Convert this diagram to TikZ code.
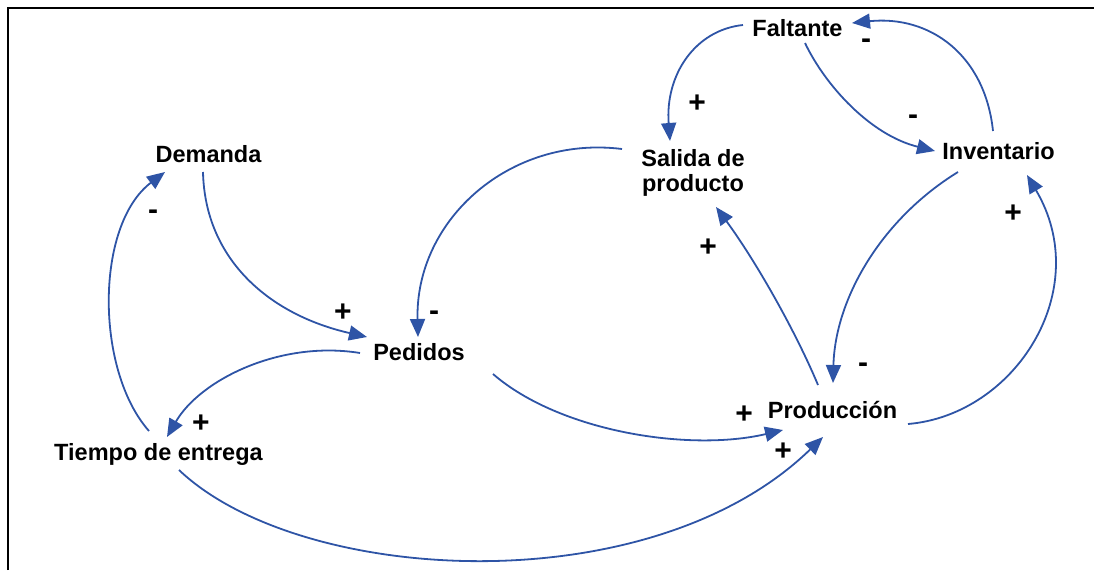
\documentclass[tikz,border=0pt]{standalone}
\usepackage{fontspec}
\setmainfont{Liberation Sans}
\usetikzlibrary{arrows.meta}
\definecolor{arrowblue}{RGB}{46,84,166}
\begin{document}
\begin{tikzpicture}[x=1pt,y=-1pt,
  lbl/.style={font=\fontsize{23.5}{25}\selectfont\bfseries, inner sep=0pt, anchor=base},
  plus/.style={font=\fontsize{30}{30}\selectfont\bfseries, inner sep=0pt, anchor=base, yshift=-10.6pt},
  minus/.style={font=\fontsize{30}{30}\selectfont\bfseries, inner sep=0pt, anchor=base, yshift=-8.4pt},
  link/.style={draw=arrowblue, line width=1.8pt, -{Triangle[length=18pt,width=15pt]}}]
\useasboundingbox (0,0) rectangle (1094,570);
\draw[line width=2pt] (8,570) -- (8,8) -- (1094,8);

\node[lbl] (F) at (797.5,36) {Faltante};
\node[lbl] (I) at (998.5,159) {Inventario};
\node[lbl] (D) at (208.5,162) {Demanda};
\node[font=\fontsize{23.5}{25}\selectfont\bfseries, inner sep=0pt, align=center] (S) at (693,172.5) {Salida de\\producto};
\node[lbl] (P) at (419,360) {Pedidos};
\node[lbl] (T) at (158.5,460) {Tiempo de entrega};
\node[lbl] (Pr) at (832.5,418) {Producción};

% connectors
\draw[link] ([shift={(-54.5,-11)}]F.base) .. controls (695,30) and (665,75) .. ([shift={(-23,-31.5)}]S.center);
\draw[link] ([shift={(7.5,7)}]F.base) .. controls (825,85) and (870,135) .. ([shift={(-63.5,-8)}]I.base);
\draw[link] ([shift={(-5.5,-28)}]I.base) .. controls (985,55) and (930,15) .. ([shift={(54.5,-13)}]F.base);
\draw[link] ([shift={(-5.5,10)}]D.base) .. controls (205,260) and (270,315) .. ([shift={(-52,-23)}]P.base);
\draw[link] ([shift={(-71,-23.5)}]S.center) .. controls (510,135) and (415,220) .. ([shift={(-1,-23)}]P.base);
\draw[link] ([shift={(-59,-7)}]P.base) .. controls (280,340) and (200,380) .. ([shift={(8.5,-23)}]T.base);
\draw[link] ([shift={(-9.5,-29)}]T.base) .. controls (95,370) and (95,225) .. ([shift={(-43.5,10)}]D.base);
\draw[link] ([shift={(74,14)}]P.base) .. controls (560,432) and (690,452) .. ([shift={(-49.5,12)}]Pr.base);
\draw[link] ([shift={(20.5,10)}]T.base) .. controls (300,585) and (650,605) .. ([shift={(-9.5,19)}]Pr.base);
\draw[link] ([shift={(-14.5,-33)}]Pr.base) .. controls (795,330) and (755,260) .. ([shift={(23,34.5)}]S.center);
\draw[link] ([shift={(-40.5,13)}]I.base) .. controls (880,220) and (835,300) .. ([shift={(0.5,-35)}]Pr.base);
\draw[link] ([shift={(75.5,6)}]Pr.base) .. controls (1015,415) and (1095,290) .. ([shift={(28.5,16)}]I.base);

% polarity signs
\node[plus] (s1) at (697,102) {+};
\node[minus] (s2) at (866,40) {-};
\node[minus] (s3) at (913,116) {-};
\node[plus] (s4) at (343,311) {+};
\node[minus] (s5) at (434,312) {-};
\node[plus] (s6) at (201,422) {+};
\node[minus] (s7) at (153,211) {-};
\node[plus] (s8) at (708,246) {+};
\node[minus] (s9) at (863,364) {-};
\node[plus] (s10) at (1013,212) {+};
\node[plus] (s11) at (744,413) {+};
\node[plus] (s12) at (783,450) {+};
\end{tikzpicture}
\end{document}
